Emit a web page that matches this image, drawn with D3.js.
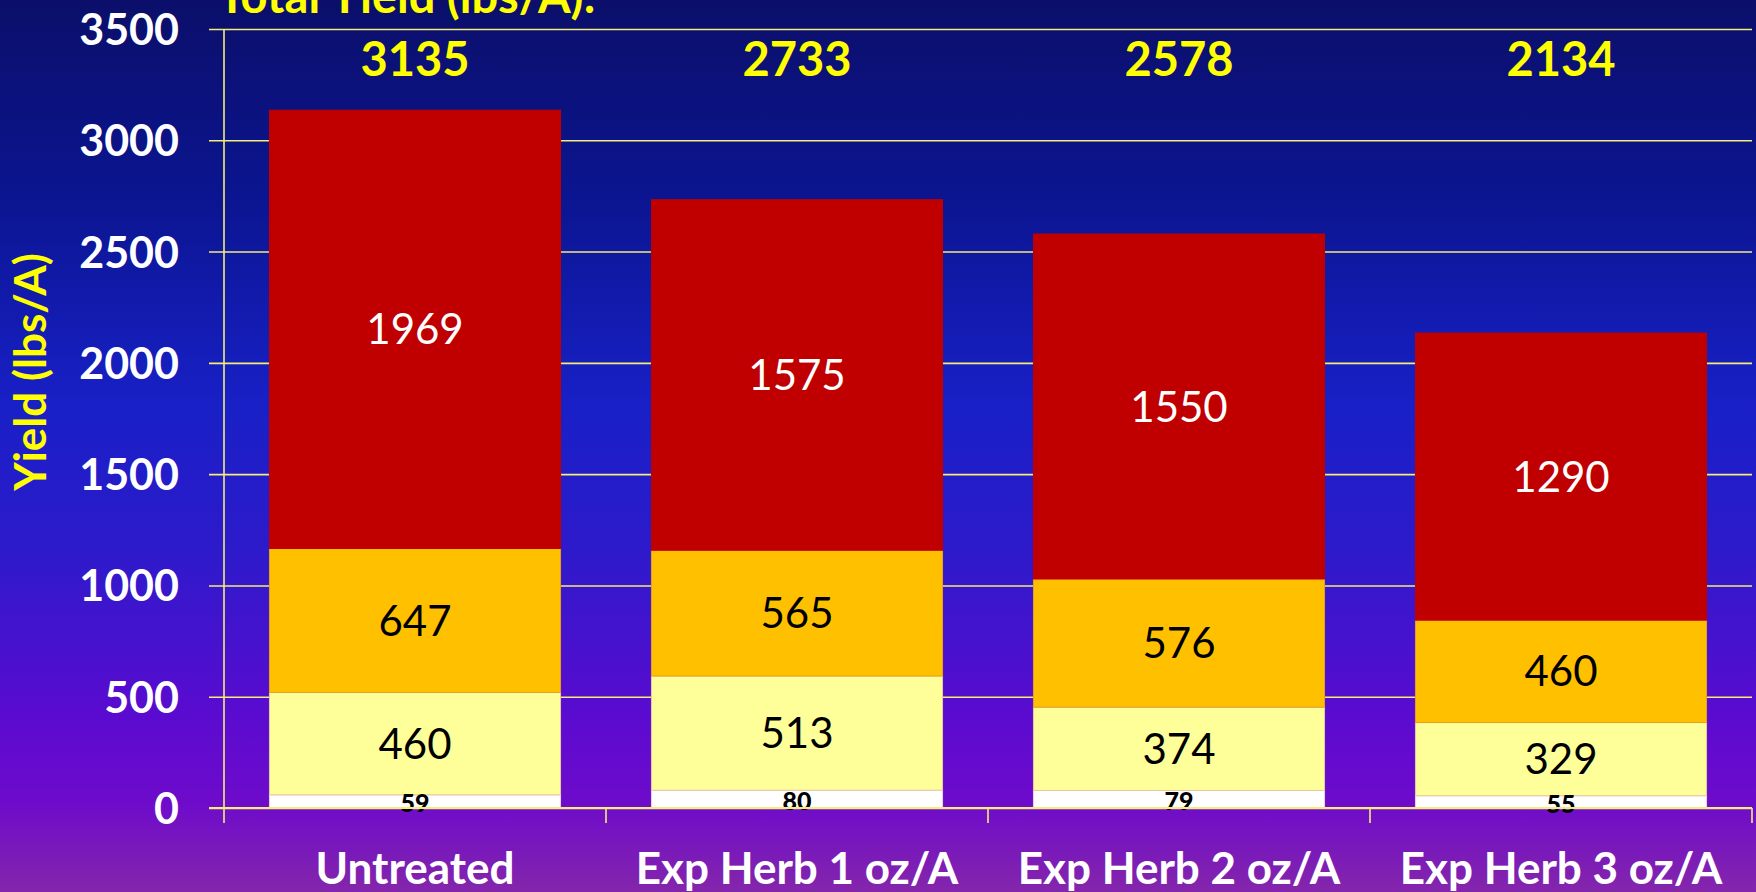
<!DOCTYPE html>
<html>
<head>
<meta charset="utf-8">
<script src="https://cdn.jsdelivr.net/npm/d3@7"></script>
<style>
  html, body { margin: 0; padding: 0; overflow: hidden; }
  svg { display: block; }
  text { font-family: Lato, "Open Sans", sans-serif; }
</style>
</head>
<body>
<svg id="chart" width="1756" height="892"></svg>
<script>
// chart data
var categories = ["Untreated", "Exp Herb 1 oz/A", "Exp Herb 2 oz/A", "Exp Herb 3 oz/A"];
var seriesNames = ["s1", "s2", "s3", "s4"];
var series1 = [59, 80, 79, 55];          // white bottom
var series2 = [460, 513, 374, 329];      // pale yellow
var series3 = [647, 565, 576, 460];      // orange
var series4 = [1969, 1575, 1550, 1290];  // red top
var totals = [3135, 2733, 2578, 2134];
var yTicks = [0, 500, 1000, 1500, 2000, 2500, 3000, 3500];
var titleText = "Total Yield (lbs/A):";
var yTitle = "Yield (lbs/A)";

var svg = d3.select("#chart");
var W = 1756, H = 892;
var m = {left: 224, right: 4, top: 29, bottom: 84};

// background gradient
var defs = svg.append("defs");
var grad = defs.append("linearGradient")
    .attr("id", "bg").attr("x1", 0).attr("y1", 0).attr("x2", 0).attr("y2", 1);
[[0, "#0b0f6a"], [0.22, "#0b1590"], [0.45, "#1820c6"], [0.62, "#2e1acb"],
 [0.8, "#5a0bd0"], [0.9, "#6e0bcb"], [1, "#8426ab"]].forEach(function(s) {
    grad.append("stop").attr("offset", s[0]).attr("stop-color", s[1]);
});
svg.append("rect").attr("width", W).attr("height", H).attr("fill", "url(#bg)");

var x = d3.scaleBand().domain(categories).range([m.left, W - m.right]).padding(0);
var y = d3.scaleLinear().domain([0, 3500]).range([H - m.bottom, m.top]);

var gridColor = "#f4ee78";

// gridlines + y tick labels
var yAxis = d3.axisLeft(y).tickValues(yTicks).tickFormat(d3.format("d"))
    .tickSize(-(W - m.right - m.left)).tickSizeOuter(0).tickPadding(45);
var gy = svg.append("g").attr("transform", "translate(" + m.left + ",0)").call(yAxis);
gy.select(".domain").remove();
gy.selectAll(".tick line")
    .attr("x1", -15)
    .attr("stroke", gridColor).attr("stroke-width", 1.6);
gy.selectAll(".tick text")
    .attr("fill", "#ffffff").attr("font-size", 43).attr("font-weight", "bold")
    .attr("dy", "0.36em");

// stacked bars
var rows = categories.map(function(c, i) {
    return {cat: c, s1: series1[i], s2: series2[i], s3: series3[i], s4: series4[i]};
});
var stack = d3.stack().keys(seriesNames)(rows);
var fills = {s1: "#ffffff", s2: "#ffff99", s3: "#ffc000", s4: "#c00000"};
var edges = {s1: "#e6d4e6", s2: "#e8c8a0", s3: "#e6a020", s4: "#c00000"};
var labelColor = {s1: "#000000", s2: "#000000", s3: "#000000", s4: "#ffffff"};
var barW = x.bandwidth() * 0.762;

var gb = svg.append("g");
stack.forEach(function(layer) {
    var key = layer.key;
    gb.selectAll(".bar-" + key)
        .data(layer)
        .enter().append("rect")
            .attr("class", "bar-" + key)
            .attr("x", function(d) { return x(d.data.cat) + (x.bandwidth() - barW) / 2; })
            .attr("y", function(d) { return y(d[1]); })
            .attr("width", barW)
            .attr("height", function(d) { return y(d[0]) - y(d[1]); })
            .attr("fill", fills[key])
            .attr("stroke", edges[key]).attr("stroke-width", 1);
});

// axis lines
var gx = svg.append("g");
gx.append("line")
    .attr("x1", m.left - 15).attr("x2", W - m.right)
    .attr("y1", y(0)).attr("y2", y(0))
    .attr("stroke", gridColor).attr("stroke-width", 2);
gx.append("line")
    .attr("x1", m.left).attr("x2", m.left)
    .attr("y1", y(3500)).attr("y2", y(0) + 15)
    .attr("stroke", gridColor).attr("stroke-width", 1.6);
var bounds = categories.map(function(c) { return x(c) + x.bandwidth(); });
gx.selectAll(".xtick").data(bounds).enter().append("line")
    .attr("x1", function(d) { return d; }).attr("x2", function(d) { return d; })
    .attr("y1", y(0)).attr("y2", y(0) + 15)
    .attr("stroke", gridColor).attr("stroke-width", 1.6);

// segment labels
stack.forEach(function(layer) {
    var key = layer.key;
    var small = key === "s1";
    gb.selectAll(".lab-" + key)
        .data(layer)
        .enter().append("text")
            .attr("x", function(d) { return x(d.data.cat) + x.bandwidth() / 2; })
            .attr("y", function(d) { return y((d[0] + d[1]) / 2) + (small ? 2 : 0); })
            .attr("dy", "0.36em")
            .attr("text-anchor", "middle")
            .attr("fill", labelColor[key])
            .attr("font-size", small ? 25 : 42)
            .attr("font-weight", small ? "900" : "normal")
            .text(function(d) { return d[1] - d[0]; });
});

// total labels
svg.selectAll(".total").data(totals).enter().append("text")
    .attr("x", function(d, i) { return x(categories[i]) + x.bandwidth() / 2; })
    .attr("y", 76)
    .attr("text-anchor", "middle")
    .attr("fill", "#ffff00").attr("font-size", 47).attr("font-weight", "bold")
    .text(function(d) { return d; });

// category labels
svg.selectAll(".cat").data(categories).enter().append("text")
    .attr("x", function(d) { return x(d) + x.bandwidth() / 2; })
    .attr("y", 884)
    .attr("text-anchor", "middle")
    .attr("fill", "#ffffff").attr("font-size", 44).attr("font-weight", "bold")
    .text(function(d) { return d; });

// title (cut off at the top, as in the original)
svg.append("text")
    .attr("x", 218).attr("y", 13)
    .attr("fill", "#ffff00").attr("font-size", 47).attr("font-weight", "bold")
    .text(titleText);

// y axis title
svg.append("text")
    .attr("transform", "translate(46,372) rotate(-90)")
    .attr("text-anchor", "middle")
    .attr("fill", "#ffff00").attr("font-size", 44).attr("font-weight", "bold")
    .text(yTitle);
</script>
</body>
</html>
